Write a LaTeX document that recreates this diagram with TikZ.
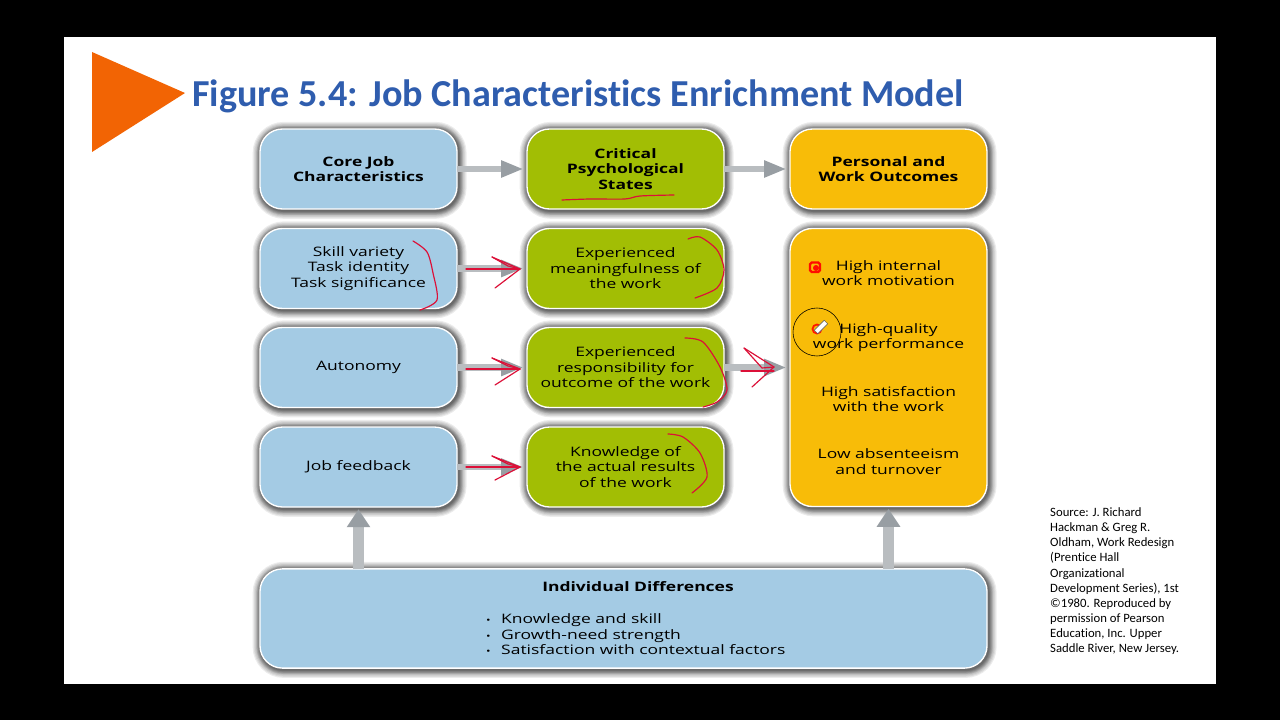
\documentclass[tikz,border=0pt]{standalone}
\usepackage{fontspec}
\setmainfont{Open Sans}[FakeStretch=1.34]
\newfontfamily\titlefont{Carlito}[Ligatures=NoCommon]
\usetikzlibrary{arrows.meta}
\definecolor{boxblue}{HTML}{A4CBE4}
\definecolor{boxgreen}{HTML}{A2BE04}
\definecolor{boxyellow}{HTML}{F8BC08}
\definecolor{titleblue}{HTML}{2F5DAE}
\definecolor{triorange}{HTML}{F26404}
\definecolor{inkred}{HTML}{DC1038}
\definecolor{arrowgray}{HTML}{B9BDC0}
\definecolor{tipgray}{HTML}{989EA3}
\tikzset{
	glow/.style={preaction={draw=black, fill=none, line width=#1, opacity=.075, transform canvas={shift={(1pt,-1.2pt)}}}},
	basebox/.style={glow=15pt, glow=13pt, glow=11pt, glow=9pt, glow=8pt, glow=7pt, glow=6pt, glow=5pt, glow=4pt, glow=3pt, glow=2pt,
		draw=white, line width=1.2pt, rounded corners=20pt, align=center, text=black,
		minimum width=6.156cm, minimum height=2.5cm, inner sep=0pt, outer sep=0pt,
		font=\fontsize{11.6}{13.8}\selectfont},
	bluebox/.style={basebox, fill=boxblue},
	greenbox/.style={basebox, fill=boxgreen},
	yellowbox/.style={basebox, fill=boxyellow},
	headtext/.style={font=\fontsize{11.6}{13.8}\selectfont\bfseries},
	flowarrow/.style={draw=arrowgray, line width=5.5pt, -{Triangle[length=20pt,width=14pt,color=tipgray]}, shorten >=3pt},
	riseline/.style={draw=arrowgray, line width=9pt, -{Triangle[length=16pt,width=20pt,color=tipgray]}, shorten >=2pt},
	ink/.style={draw=inkred, line width=1.05pt, line cap=round, line join=round}
}
\newcommand{\dotitem}[1]{\makebox[13.3pt][l]{\fontsize{8}{8}\selectfont•}#1}
\begin{document}
\begin{tikzpicture}[x=0.03125cm, y=-0.03125cm]
	\useasboundingbox (0,0) rectangle (1280,720);
	\fill[black] (0,0) rectangle (1280,720);
	\fill[white] (64,37) rectangle (1216,684);
	\fill[triorange] (92,52)--(185,93)--(92,152)--cycle;
	\node[anchor=west, inner sep=0pt, text=titleblue, font=\titlefont\fontsize{33.9}{38}\selectfont\bfseries] (title) at (192,96.5) {Figure 5.4: Job Characteristics Enrichment Model};
	% top row
	\node[bluebox, headtext] (core) at (358.5,169) {Core Job\\Characteristics};
	\node[greenbox, headtext] (critical) at (625.5,169) {Critical\\Psychological\\States};
	\node[yellowbox, headtext] (personal) at (888.5,169) {Personal and\\Work Outcomes};
	% job characteristics and states
	\node[bluebox] (skill) at (358.5,268.5) {\raisebox{-1pt}{Skill variety}\\\raisebox{-1pt}{Task identity}\\\raisebox{-1pt}{Task significance}};
	\node[bluebox] (autonomy) at (358.5,367.5) {\raisebox{-1.5pt}{Autonomy}};
	\node[bluebox] (feedback) at (358.5,467) {\raisebox{-1pt}{Job feedback}};
	\node[greenbox] (meaning) at (625.5,268.5) {\raisebox{-1.5pt}{Experienced}\\\raisebox{-1.5pt}{meaningfulness of}\\\raisebox{-1.5pt}{the work}};
	\node[greenbox] (respons) at (625.5,367.5) {Experienced\\responsibility for\\outcome of the work};
	\node[greenbox] (results) at (625.5,467) {Knowledge of\\the actual results\\of the work};
	\node[yellowbox, minimum height=8.69cm] (outcomes) at (888.5,367.5) {High internal\\work motivation\\[28.3pt]High-quality\\work performance\\[28.3pt]High satisfaction\\with the work\\[28.3pt]Low absenteeism\\and turnover};
	% individual differences
	\node[bluebox, minimum width=22.72cm, minimum height=3.1cm] (individual) at (623.5,618.5) {};
	\node[headtext, inner sep=0pt] (indhead) at (638,587) {Individual Differences};
	\node[anchor=west, inner sep=0pt, align=left, font=\fontsize{11.6}{13.8}\selectfont] (indlist) at (486,634.5)
		{\dotitem{Knowledge and skill}\\\dotitem{Growth-need strength}\\\dotitem{Satisfaction with contextual factors}};
	\node[anchor=north west, inner sep=0pt, align=left, font=\titlefont\fontsize{11.3}{13.45}\selectfont] (source) at (1050,507.5)
		{Source: J. Richard\\Hackman \& Greg R.\\Oldham, Work Redesign\\(Prentice Hall\\Organizational\\Development Series), 1st\\©1980. Reproduced by\\permission of Pearson\\Education, Inc. Upper\\Saddle River, New Jersey.};
	% gray connectors
	\draw[flowarrow] (core) -- (critical);
	\draw[flowarrow] (critical) -- (personal);
	\draw[flowarrow] (skill) -- (meaning);
	\draw[flowarrow] (autonomy) -- (respons);
	\draw[flowarrow] (feedback) -- (results);
	\draw[flowarrow] (respons) -- (outcomes);
	\draw[riseline] (feedback |- individual.north) -- (feedback.south);
	\draw[riseline] (outcomes |- individual.north) -- (outcomes.south);
	% red pen marks
	\draw[ink] plot[smooth] coordinates {(562,200)(590,199)(625,199)(640,196)(674,195)};
	\draw[ink] plot[smooth] coordinates {(413,241)(427,252)(433,273)(437,300)(420,310)};
	\draw[ink] plot[smooth] coordinates {(688,239)(700,237)(717,250)(724,270)(717,288)(695,298)};
	\draw[ink] plot[smooth] coordinates {(685,338)(703,342)(720,367)(727,390)(717,402)(703,407)};
	\draw[ink] plot[smooth] coordinates {(668,434)(683,437)(700,453)(707,477)(692,493)};
	\foreach \ya/\yb/\yc in {269/257/288, 369/358/385, 467/456/480} {
		\draw[ink] (466,\ya)--(520,\ya);
		\draw[ink] (492,\yb)--(520,\ya)--(495,\yc);
		\draw[ink] (492,\yb)--(508,\ya-3)--(520,\ya);
	}
	\draw[ink] (741,371)--(774,371);
	\draw[ink] (744,348)--(774,367)--(752,387);
	\draw[ink] (744,348)--(762,368)--(774,367);
	% pointer marks
	\draw[draw=red!90!orange, line width=2pt, rounded corners=1.5pt] (810,262.5)rectangle(820,272);
	\fill[red!90!orange] (816,268) circle(3);
	\draw[draw=orange!20!red, line width=1.6pt] (817,329) circle(4.5);
	\draw[fill=white, draw=black!70, line width=0.4pt, rotate around={45:(821,327)}] (814,324.5) rectangle (828,329.5);
	\draw[black, line width=0.5pt] (817,332) circle(24);
\end{tikzpicture}
\end{document}
